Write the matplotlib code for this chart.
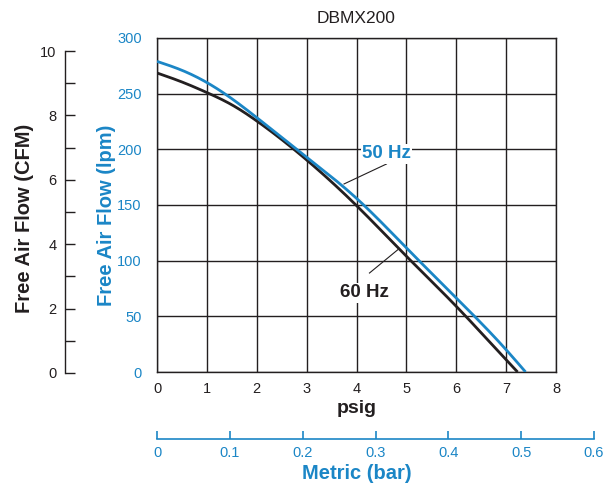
import matplotlib
matplotlib.use("Agg")
import matplotlib.pyplot as plt
import numpy as np

plt.rcParams['font.family'] = ['Liberation Sans', 'DejaVu Sans']

BLUE = '#1b86c6'
BLACK = '#231f20'

psig = [0, 0.5, 1, 1.5, 2, 3, 4, 5, 6, 7]
lpm_50 = [279, 271, 260, 245.5, 228.5, 193, 156, 111.5, 66.5, 20]
end_50 = 7.39
lpm_60 = [268.6, 260.5, 251, 240, 225.5, 190.5, 149.5, 104, 59, 11]
end_60 = 7.23

x_ticks = [0, 1, 2, 3, 4, 5, 6, 7, 8]
y_ticks = [0, 50, 100, 150, 200, 250, 300]
cfm_ticks = [0, 2, 4, 6, 8, 10]
cfm_minor = [1, 3, 5, 7, 9]
bar_ticks = [0, 0.1, 0.2, 0.3, 0.4, 0.5, 0.6]
bar_labels = ['0', '0.1', '0.2', '0.3', '0.4', '0.5', '0.6']

W, H = 610, 483
fig = plt.figure(figsize=(W / 100, H / 100), dpi=100)

def box(x0, y0, x1, y1):
    return [x0 / W, (H - y1) / H, (x1 - x0) / W, (y1 - y0) / H]

ax = fig.add_axes(box(157, 38, 556, 372))

def spline(xs, ys, n=400):
    # natural cubic spline
    x = np.asarray(xs, float); y = np.asarray(ys, float)
    N = len(x); h = np.diff(x)
    A = np.zeros((N, N)); r = np.zeros(N)
    A[0, 0] = A[-1, -1] = 1
    for i in range(1, N - 1):
        A[i, i - 1] = h[i - 1]; A[i, i] = 2 * (h[i - 1] + h[i]); A[i, i + 1] = h[i]
        r[i] = 6 * ((y[i + 1] - y[i]) / h[i] - (y[i] - y[i - 1]) / h[i - 1])
    M = np.linalg.solve(A, r)
    t = np.linspace(x[0], x[-1], n)
    i = np.clip(np.searchsorted(x, t) - 1, 0, N - 2)
    hi = h[i]; a = x[i + 1] - t; b = t - x[i]
    yt = (M[i] * a**3 + M[i + 1] * b**3) / (6 * hi) + (y[i] / hi - M[i] * hi / 6) * a + (y[i + 1] / hi - M[i + 1] * hi / 6) * b
    return t, yt

sx, sy = spline(list(psig) + [end_60], list(lpm_60) + [0])
ax.plot(sx, sy, color=BLACK, lw=2.0, solid_capstyle='butt', zorder=3)
sx, sy = spline(list(psig) + [end_50], list(lpm_50) + [0])
ax.plot(sx, sy, color=BLUE, lw=2.0, solid_capstyle='butt', zorder=4)

ax.set_xlim(0, 8)
ax.set_ylim(0, 300)
ax.set_xticks(x_ticks)
ax.set_yticks(y_ticks)
ax.grid(True, color=BLACK, lw=1.0)
ax.set_axisbelow(True)
for s in ax.spines.values():
    s.set_color(BLACK)
    s.set_linewidth(1.0)
ax.tick_params(length=0, pad=8)
ax.tick_params(axis='x', labelsize=10.5, labelcolor=BLACK, pad=7)
ax.tick_params(axis='y', labelsize=10.5, labelcolor=BLUE, pad=11)
ax.set_xlabel('psig', fontsize=14, fontweight='bold', color=BLACK, labelpad=3)
ax.set_title('DBMX200', fontsize=12.5, color=BLACK, pad=11)

# annotations
ax.plot([4.6, 3.75], [186.8, 168.9], color=BLACK, lw=0.8, zorder=5)
ax.text(4.6, 196, '50 Hz', color=BLUE, fontsize=13.5, fontweight='bold', ha='center', va='center',
        bbox=dict(facecolor='white', edgecolor='none', pad=1.0), zorder=6)
ax.plot([4.26, 4.83], [88.9, 109.9], color=BLACK, lw=0.8, zorder=5)
ax.text(4.16, 71, '60 Hz', color=BLACK, fontsize=13.5, fontweight='bold', ha='center', va='center',
        bbox=dict(facecolor='white', edgecolor='none', pad=1.0), zorder=6)

# CFM axis
axc = fig.add_axes(box(65, 51, 80, 373))
axc.set_ylim(0, 10)
axc.set_xlim(0, 1)
for k in ['top', 'right', 'bottom']:
    axc.spines[k].set_visible(False)
axc.spines['left'].set_color(BLACK)
axc.spines['left'].set_linewidth(1.0)
axc.patch.set_visible(False)
axc.set_xticks([])
axc.set_yticks(cfm_ticks)
axc.set_yticks(cfm_minor, minor=True)
axc.tick_params(axis='y', which='both', direction='in', length=7.5, width=1.0, color=BLACK,
                labelsize=10.5, labelcolor=BLACK, pad=6)

# Metric axis
axm = fig.add_axes(box(157, 420, 594, 439))
axm.set_xlim(0, 0.6)
for k in ['top', 'right', 'left']:
    axm.spines[k].set_visible(False)
axm.spines['bottom'].set_color(BLUE)
axm.spines['bottom'].set_linewidth(1.2)
axm.patch.set_visible(False)
axm.set_yticks([])
axm.set_xticks(bar_ticks)
axm.set_xticklabels(bar_labels)
axm.tick_params(axis='x', direction='in', length=6, width=1.2, color=BLUE,
                labelsize=10.5, labelcolor=BLUE, pad=5)
fig.text(357 / W, 1 - 479 / H, 'Metric (bar)', ha='center', va='baseline',
         fontsize=14.5, fontweight='bold', color=BLUE)

fig.text(25 / W, 1 - 218 / H, 'Free Air Flow (CFM)', rotation=90, ha='center', va='center',
         fontsize=14.5, fontweight='bold', color=BLACK)
fig.text(107 / W, 1 - 215 / H, 'Free Air Flow (lpm)', rotation=90, ha='center', va='center',
         fontsize=14.5, fontweight='bold', color=BLUE)

fig.savefig('out.png', dpi=100)
